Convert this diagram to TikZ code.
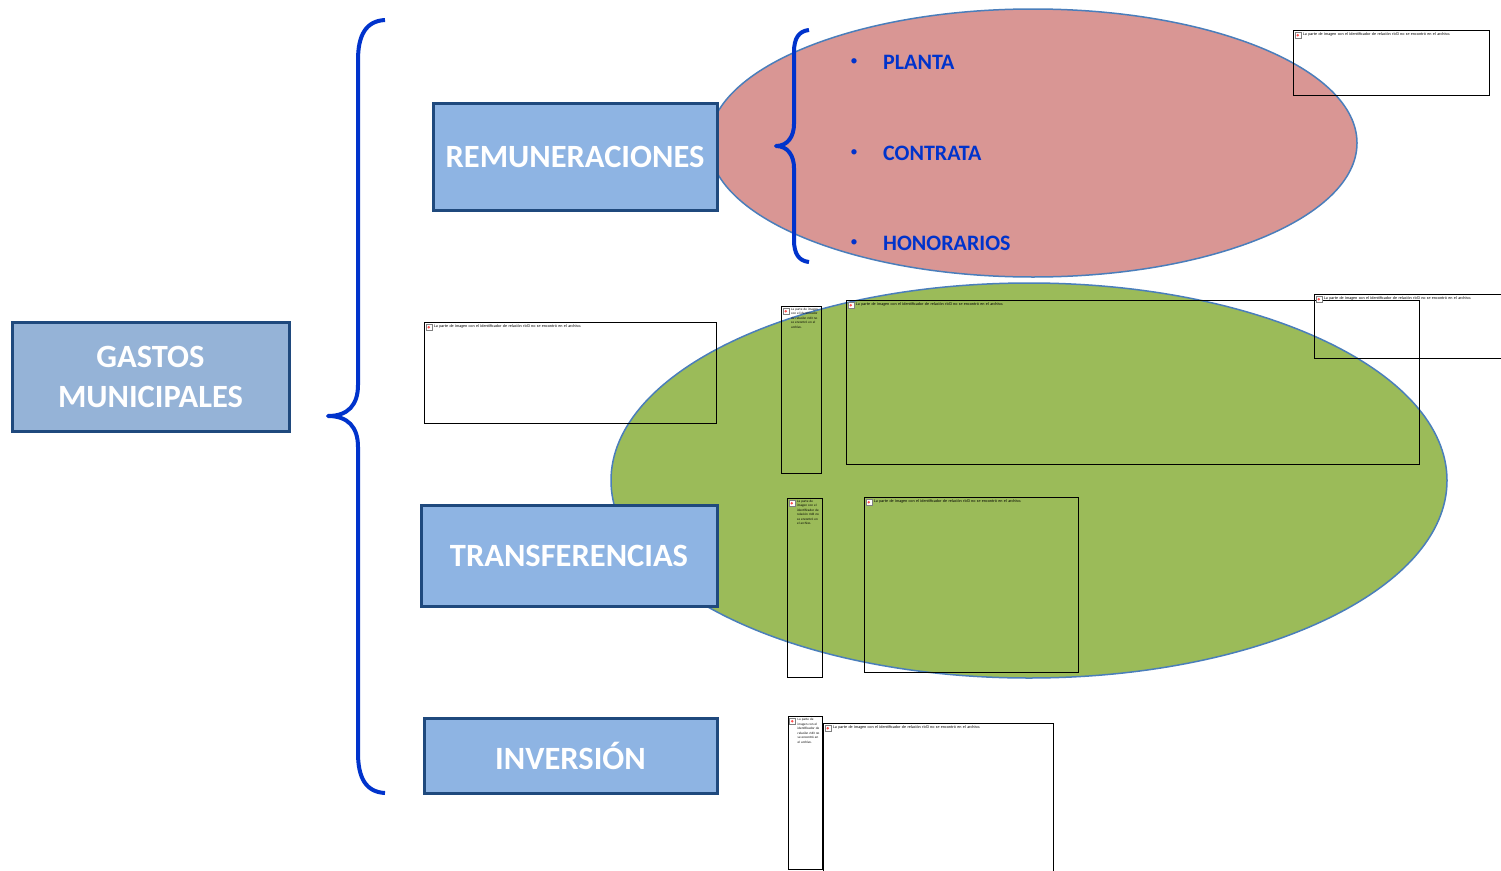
\documentclass[tikz,border=0pt]{standalone}
\usepackage{fontspec}
\setmainfont{Carlito}
\usetikzlibrary{positioning,shapes.geometric}
\definecolor{bracecol}{HTML}{0033CC}
\definecolor{ovalred}{HTML}{D99694}
\definecolor{ovalgreen}{HTML}{9BBB59}
\definecolor{ovalline}{HTML}{4A7EBB}
\definecolor{boxfill}{HTML}{8EB4E3}
\definecolor{boxfilltwo}{HTML}{95B3D7}
\definecolor{boxline}{HTML}{1F497D}
\tikzset{
  oval/.style={ellipse,draw=ovalline,line width=1.5pt,inner sep=0pt},
  gasto/.style={rectangle,draw=boxline,line width=3pt,fill=boxfill,text=white,font=\bfseries\fontsize{32.5}{40}\selectfont,align=center,inner sep=0pt,anchor=north west},
  brace/.style={draw=bracecol,line width=4pt,line join=round},
  partida/.style={text=bracecol,font=\bfseries\fontsize{22}{24}\selectfont,anchor=west,inner sep=0pt},
  vineta/.style={text=bracecol,font=\fontsize{15}{18}\selectfont,inner sep=0pt},
  marco/.style={rectangle,draw=black,line width=1pt,inner sep=0pt,anchor=north west},
  icono/.style={rectangle,draw=gray,line width=.5pt,fill=white,minimum size=6pt,inner sep=0pt,path picture={\fill[red!70] (path picture bounding box.center) circle (1.3pt);}},
  aviso/.style={align=left,inner sep=0pt,anchor=north west},
  avisoancho/.style={font=\fontsize{4.1}{5.4}\selectfont,text width=170pt},
  avisoangosto/.style={font=\fontsize{3.3}{4.5}\selectfont,text width=#1}
}
% imagen rota: nombre, esquina, ancho, alto, estilo del texto
\newcommand{\imagenrota}[5]{
  \node[marco,minimum width=#3pt,minimum height=#4pt] (#1) at (#2) {};
  \node[icono,below right=2pt and 1.5pt of #1.north west] (#1i) {};
  \node[aviso,#5,right=2pt of #1i.north east,anchor=north west] (#1t) {La parte de imagen con el identificador de relación rId3 no se \mbox{encontró} en el archivo.};
}
\begin{document}
\begin{tikzpicture}[x=1pt,y=-1pt]
\clip (0,0) rectangle (1501,870);
\fill[white] (0,0) rectangle (1501,870);
\node[oval,fill=ovalred,minimum width=648pt,minimum height=268pt] (ovalrem) at (1033,143) {};
\node[oval,fill=ovalgreen,minimum width=836pt,minimum height=395pt] (ovaltrans) at (1029,480.5) {};

\node[gasto,fill=boxfilltwo,minimum width=277pt,minimum height=109pt] (gastos) at (10.5,320.5) {GASTOS\\MUNICIPALES};
\node[gasto,minimum width=284pt,minimum height=107pt] (remun) at (431.5,101.5) {REMUNERACIONES};
\node[gasto,minimum width=296pt,minimum height=101pt] (transf) at (419.5,503.5) {TRANSFERENCIAS};
\node[gasto,minimum width=293pt,minimum height=75pt] (inver) at (422.5,716.5) {INVERSIÓN};

% llaves
\coordinate (grantop) at (385,20);
\coordinate (granmid) at (328,416);
\coordinate (granbot) at (385,793);
\draw[brace] (grantop) .. controls (366,21) and (358,35) .. (358,60) -- (358,385) .. controls (358,405) and (348,416) .. (granmid) .. controls (348,416) and (358,427) .. (358,447) -- (358,753) .. controls (358,778) and (366,792) .. (granbot);
\coordinate (chicatop) at (809,30);
\coordinate (chicamid) at (776,146);
\coordinate (chicabot) at (809,262);
\draw[brace] (chicatop) .. controls (799,31) and (794,38) .. (794,52) -- (794,124) .. controls (794,136) and (788,146) .. (chicamid) .. controls (788,146) and (794,156) .. (794,168) -- (794,240) .. controls (794,254) and (799,261) .. (chicabot);

\node[partida] (planta) at (883,62) {PLANTA};
\node[partida] (contrata) at (883,153) {CONTRATA};
\node[partida] (honor) at (883,243) {HONORARIOS};
\node[vineta,left=25pt of planta] (vplanta) {•};
\node[vineta,left=25pt of contrata] (vcontrata) {•};
\node[vineta,left=25pt of honor] (vhonor) {•};

\imagenrota{imgrem}{1293,30}{196}{65}{avisoancho}
\imagenrota{imgizq}{424,322}{292}{101}{avisoancho}
\imagenrota{imgangosta}{781,306}{40}{167}{avisoangosto=28pt}
\imagenrota{imgancha}{846,300}{573}{164}{avisoancho}
\imagenrota{imgfuera}{1314,294}{246}{64}{avisoancho}
\imagenrota{imgtransa}{787,498}{35}{179}{avisoangosto=24pt}
\imagenrota{imgtransb}{864,497}{214}{175}{avisoancho}
\imagenrota{imginva}{787.5,716}{34}{153}{avisoangosto=24pt}
\imagenrota{imginvb}{823,723}{230}{180}{avisoancho}
\end{tikzpicture}
\end{document}
